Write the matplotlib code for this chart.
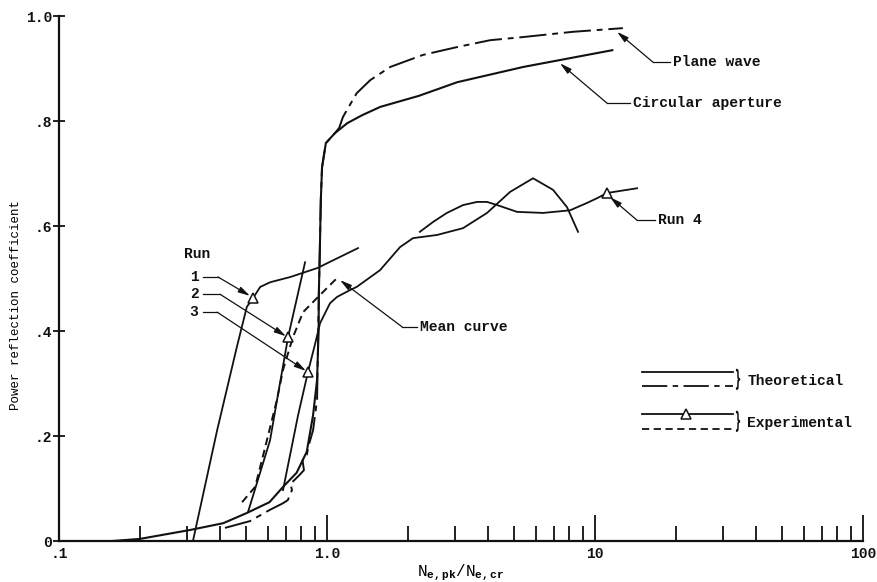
import matplotlib
matplotlib.use("Agg")
import matplotlib.pyplot as plt
from matplotlib.ticker import FixedLocator, FixedFormatter, LogLocator, NullFormatter
from matplotlib.textpath import TextPath
from matplotlib.patches import PathPatch
from matplotlib.transforms import Affine2D
from matplotlib.font_manager import FontProperties

plt.rcParams["font.family"] = "Liberation Mono"
plt.rcParams["font.weight"] = "bold"
plt.rcParams["mathtext.fontset"] = "custom"
plt.rcParams["mathtext.rm"] = "Liberation Mono:bold"
plt.rcParams["mathtext.it"] = "Liberation Mono:bold"

INK = "#111111"

# ── theoretical: circular aperture (solid) ──
circ_x = [0.158, 0.20, 0.308, 0.41, 0.50, 0.61, 0.685, 0.77, 0.84, 0.887, 0.918,
          0.93, 0.932, 0.94, 0.948, 0.958, 0.99, 1.07, 1.19, 1.35, 1.58, 2.2,
          3.06, 5.39, 11.6]
circ_y = [0.0, 0.004, 0.021, 0.034, 0.053, 0.074, 0.103, 0.13, 0.17, 0.24, 0.307,
          0.40, 0.47, 0.554, 0.65, 0.712, 0.758, 0.777, 0.796, 0.811, 0.827, 0.848,
          0.874, 0.903, 0.935]

# ── theoretical: plane wave (chain line) ──
pw_x = [0.416, 0.516, 0.61, 0.685, 0.714, 0.74, 0.73, 0.755, 0.79, 0.82, 0.81,
        0.84, 0.855, 0.887, 0.918, 0.932, 0.94, 0.948, 0.958, 0.99, 1.07, 1.11,
        1.147, 1.29, 1.45, 1.72, 2.28, 3.06, 4.06, 5.39, 8.27, 12.7]
pw_y = [0.025, 0.038, 0.059, 0.072, 0.078, 0.097, 0.109, 0.116, 0.126, 0.135, 0.154,
        0.164, 0.183, 0.211, 0.27, 0.47, 0.554, 0.65, 0.712, 0.758, 0.777, 0.787,
        0.808, 0.853, 0.878, 0.903, 0.926, 0.941, 0.954, 0.96, 0.97, 0.977]

# ── experimental: mean curve (dashed) ──
mean_x = [0.482, 0.539, 0.582, 0.651, 0.685, 0.747, 0.814, 0.926, 1.10]
mean_y = [0.074, 0.103, 0.17, 0.27, 0.326, 0.389, 0.436, 0.465, 0.503]

# ── experimental runs (solid) ──
run1_x = [0.316, 0.389, 0.461, 0.502, 0.53, 0.563, 0.614, 0.73, 0.92, 1.305]
run1_y = [0.0, 0.211, 0.37, 0.446, 0.463, 0.484, 0.493, 0.503, 0.52, 0.558]

run2_x = [0.507, 0.613, 0.651, 0.716, 0.828]
run2_y = [0.055, 0.192, 0.269, 0.389, 0.531]

run3_x = [0.685, 0.78, 0.849, 0.90, 0.942, 1.026, 1.09, 1.218, 1.29, 1.577, 1.873,
          2.094, 2.573, 3.217, 3.954, 4.818, 5.87, 6.97, 7.86, 8.64]
run3_y = [0.097, 0.24, 0.322, 0.373, 0.415, 0.453, 0.465, 0.478, 0.484, 0.516, 0.56,
          0.577, 0.583, 0.596, 0.625, 0.665, 0.691, 0.669, 0.636, 0.589]

run4_x = [2.22, 2.49, 2.80, 3.22, 3.63, 3.95, 4.31, 5.12, 6.40, 8.07, 9.33, 10.17,
          11.09, 14.35]
run4_y = [0.589, 0.608, 0.625, 0.64, 0.646, 0.646, 0.64, 0.627, 0.625, 0.63, 0.644,
          0.653, 0.663, 0.672]

# triangles marking each run
tri_x = [0.53, 0.716, 0.849, 11.09]
tri_y = [0.463, 0.389, 0.322, 0.663]

x_ticks = [0.1, 1, 10, 100]
x_labels = [".1", "1.0", "10", "100"]
y_ticks = [0, 0.2, 0.4, 0.6, 0.8, 1.0]
y_labels = ["0", ".2", ".4", ".6", ".8", "1.0"]

THEO_DASH = (14, 3, 3, 3)
EXP_DASH = (4, 2.5)
ARROW = dict(arrowstyle="-|>,head_length=0.7,head_width=0.18", color=INK,
             lw=0.9, shrinkA=0, shrinkB=0, mutation_scale=10)

fig = plt.figure(figsize=(8.77, 5.82), dpi=100, facecolor="white")
ax = fig.add_axes([0.0673, 0.0704, 0.9168, 0.902])
ax.set_xscale("log")
ax.set_xlim(0.1, 100)
ax.set_ylim(0, 1.0)

ax.plot(circ_x, circ_y, color=INK, lw=1.5)
ax.plot(pw_x, pw_y, color=INK, lw=1.4, dashes=THEO_DASH)
ax.plot(mean_x, mean_y, color=INK, lw=1.4, dashes=EXP_DASH)
for xs, ys in [(run1_x, run1_y), (run2_x, run2_y), (run3_x, run3_y), (run4_x, run4_y)]:
    ax.plot(xs, ys, color=INK, lw=1.3)
ax.plot(tri_x, tri_y, ls="none", marker="^", ms=7, mfc="white", mec=INK,
        mew=1.1, zorder=5)

# axes
for s in ("top", "right"):
    ax.spines[s].set_visible(False)
for s in ("left", "bottom"):
    ax.spines[s].set_linewidth(1.6)
    ax.spines[s].set_color(INK)

ax.xaxis.set_major_locator(FixedLocator(x_ticks))
ax.xaxis.set_major_formatter(FixedFormatter(x_labels))
ax.xaxis.set_minor_locator(LogLocator(base=10, subs=range(2, 10)))
ax.xaxis.set_minor_formatter(NullFormatter())
ax.tick_params(axis="x", which="major", direction="in", length=19, width=1.3,
               pad=4, labelsize=10.5, colors=INK)
ax.tick_params(axis="x", which="minor", direction="in", length=11, width=1.3,
               colors=INK)
ax.set_yticks(y_ticks)
ax.set_yticklabels(y_labels)
ax.tick_params(axis="y", direction="inout", length=9, width=1.3, pad=0.5,
               labelsize=10.5, colors=INK)

ax.set_xlabel(r"N$_{\mathrm{e,pk}}$/N$_{\mathrm{e,cr}}$", fontsize=11.5, labelpad=1)
ax.set_ylabel("Power reflection coefficient", fontsize=9)
ax.yaxis.set_label_coords(-0.046, 0.45)

# ── labelled leaders: (text, arrow tip, elbow, end of horizontal, text x) ──
leaders = [
    ("Plane wave", (12.08, 0.970), (16.46, 0.912), 19.05, 19.6),
    ("Circular aperture", (7.40, 0.910), (11.09, 0.834), 13.5, 13.9),
    ("Run 4", (11.38, 0.655), (14.35, 0.611), 16.75, 17.2),
    ("Mean curve", (1.118, 0.497), (1.905, 0.408), 2.17, 2.22),
]
for label, tip, elbow, hend, tx in leaders:
    ax.plot([elbow[0], hend], [elbow[1], elbow[1]], color=INK, lw=0.9)
    ax.annotate("", xy=tip, xytext=elbow, arrowprops=ARROW)
    ax.text(tx, elbow[1], label, ha="left", va="center", fontsize=10.5, color=INK)

# run number leaders (number on the left)
ax.text(0.327, 0.547, "Run", ha="center", va="center", fontsize=10.5, color=INK)
run_leaders = [
    ("1", 0.503, 0.392, (0.516, 0.467)),
    ("2", 0.470, 0.399, (0.703, 0.390)),
    ("3", 0.436, 0.389, (0.835, 0.324)),
]
for num, y, xe, tip in run_leaders:
    ax.text(0.319, y, num, ha="center", va="center", fontsize=10.5, color=INK)
    ax.plot([0.3446, xe], [y, y], color=INK, lw=0.9)
    ax.annotate("", xy=tip, xytext=(xe, y), arrowprops=ARROW)

# ── legend drawn by hand ──
T = ax.transAxes
ax.plot([0.725, 0.838], [0.322, 0.322], color=INK, lw=1.3, transform=T)
ax.plot([0.725, 0.838], [0.295, 0.295], color=INK, lw=1.3, dashes=THEO_DASH,
        transform=T)
ax.plot([0.725, 0.838], [0.242, 0.242], color=INK, lw=1.3, transform=T)
ax.plot([0.78], [0.242], ls="none", marker="^", ms=7, mfc="white", mec=INK,
        mew=1.1, transform=T, zorder=5)
ax.plot([0.725, 0.838], [0.213, 0.213], color=INK, lw=1.3, dashes=EXP_DASH,
        transform=T)

# thin, tall braces: a "}" glyph stretched vertically
brace = TextPath((0, 0), "}", size=12, prop=FontProperties(family="DejaVu Sans"))
bx = brace.get_extents()
for yc, txt in [(0.308, "Theoretical"), (0.228, "Experimental")]:
    cx, cy = T.transform((0.8445, yc))
    tr = (Affine2D().translate(-(bx.x0 + bx.x1) / 2, -(bx.y0 + bx.y1) / 2)
          .scale(0.75, 1.9).translate(cx, cy))
    fig.add_artist(PathPatch(brace, transform=tr, facecolor=INK, lw=0))
    ax.text(0.856, yc - 0.003, txt, transform=T, ha="left", va="center",
            fontsize=10.5, color=INK)

fig.savefig("out.png", dpi=100, facecolor="white")
